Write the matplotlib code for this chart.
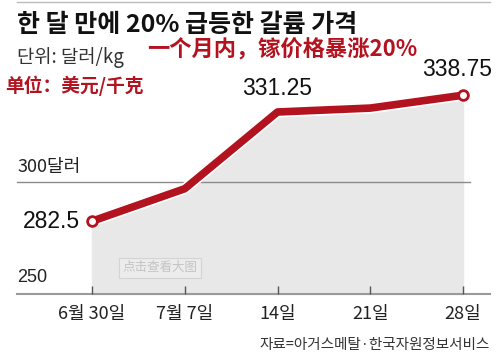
import matplotlib.pyplot as plt
import numpy as np

dates = ["6월 30일", "7월 7일", "14일", "21일", "28일"]
prices = [282.5, 297.0, 331.25, 333.0, 338.75]
labelled = {0: "282.5", 2: "331.25", 4: "338.75"}

title = "한 달 만에 20% 급등한 갈륨 가격"
unit_kr = "단위: 달러/kg"
note_cn = "一个月内，镓价格暴涨20%"
unit_cn = "单位：美元/千克"
source = "자료=아거스메탈·한국자원정보서비스"

W, H = 500, 364
KR = ["Noto Sans CJK KR", "DejaVu Sans"]
CN = ["Noto Sans CJK SC", "DejaVu Sans"]
NUM = ["Liberation Sans Narrow", "Liberation Sans", "DejaVu Sans"]
red = "#b3121f"

fig = plt.figure(figsize=(W / 100, H / 100), dpi=100)
ax = fig.add_axes([0, 0, 1, 1])
ax.axis("off")

# pixel mapping: index 0 -> x=92, index 4 -> x=463 ; 250 -> y=294, 300 -> y=182
xs = np.arange(len(dates))
dx = (463 - 92) / 4
dy = (294 - 182) / 50
ax.set_xlim(-92 / dx, (W - 92) / dx)
ax.set_ylim(250 - (H - 294) / dy, 250 + 294 / dy)

def fx(px):
    return px / W

def fy(py):
    return 1 - py / H

ax.fill_between(xs, prices, 250, color="#e8e8e8", zorder=1)
ax.plot(xs, prices, color="white", lw=8, solid_capstyle="round", zorder=3)
ax.plot(xs, prices, color=red, lw=5.5, solid_capstyle="round", zorder=4)
ends = [0, len(xs) - 1]
ax.plot(xs[ends], np.array(prices)[ends], "o", ms=7, mfc="white", mec=red, mew=2, zorder=5)

# grid line at 300 and baseline at 250
ax.plot([-75 / dx, (470 - 92) / dx], [300, 300], color="#8a8a8a", lw=1, zorder=2)
ax.plot([-75 / dx, (490 - 92) / dx], [250, 250], color="#9a9a9a", lw=1.5, zorder=2)
ax.vlines(xs, 250, 250 + 8 / dy, color="#555555", lw=1, zorder=2)
ax.text(-75 / dx, 300 + 6 / dy, "300달러", family=KR, fontsize=13, color="#222222", va="bottom", ha="left")
ax.text(-75 / dx, 250 + 8 / dy, "250", family=NUM, fontsize=13, color="#222222", va="bottom", ha="left")

for i, d in enumerate(dates):
    ax.text(xs[i], 250 - 11 / dy, d, family=KR, fontsize=13, color="#222222", ha="center", va="top")

offsets = {0: (-12, 0, "right", "center"), 2: (0, 12, "center", "bottom"), 4: (-6, 14, "center", "bottom")}
for i, txt in labelled.items():
    ox, oy, ha, va = offsets[i]
    ax.annotate(txt, (xs[i], prices[i]), xytext=(ox, oy), textcoords="offset pixels",
                family=NUM, fontsize=16.5, color="#111111", ha=ha, va=va, zorder=6)

# header
fig.add_artist(plt.Line2D([fx(17), fx(490)], [fy(2), fy(2)], color="#bbbbbb", lw=1))
fig.text(fx(17), fy(25), title, family=KR, fontsize=18, fontweight="bold", color="#111111", va="center")
fig.text(fx(17), fy(58), unit_kr, family=KR, fontsize=13.5, color="#333333", va="center")
fig.text(fx(147), fy(50), note_cn, family=CN, fontsize=16, fontweight="bold", color=red, va="center")
fig.text(fx(5), fy(86), unit_cn, family=CN, fontsize=13.5, fontweight="bold", color=red, va="center")

# watermark and source
fig.text(fx(160), fy(268), "点击查看大图", family=CN, fontsize=9, color="#c4c4c4", ha="center", va="center",
         bbox=dict(boxstyle="square,pad=0.3", fc="#ececec", ec="#d4d4d4", lw=0.8))
fig.text(fx(490), fy(345), source, family=KR, fontsize=10.5, color="#333333", ha="right", va="center")

fig.savefig("out.png", dpi=100)
